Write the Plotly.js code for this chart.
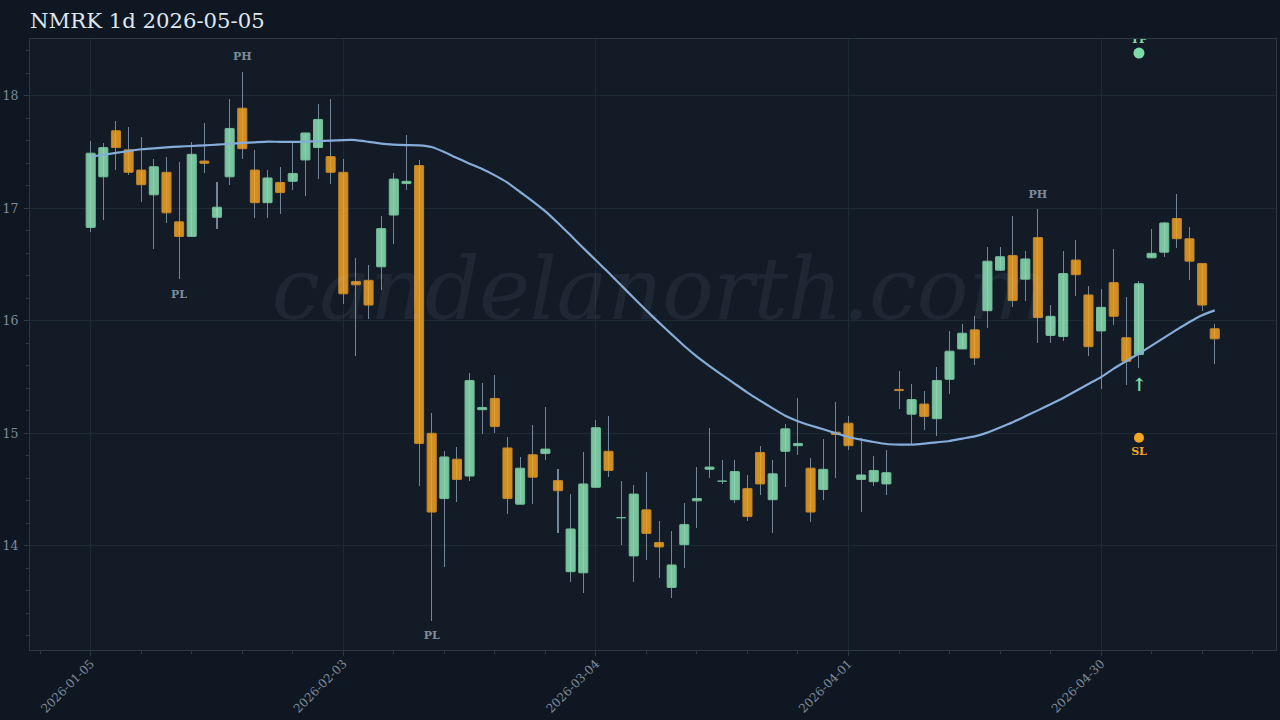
<!DOCTYPE html>
<html><head><meta charset="utf-8">
<script src="https://cdn.plot.ly/plotly-3.0.1.min.js"></script>
<style>html,body{margin:0;padding:0;background:#0f1722;}#c{width:1280px;height:720px;}.annotation text{letter-spacing:-0.6px;}</style>
</head><body><div id="c"></div>
<script>
const opens=[16.83,17.28,17.69,17.52,17.34,17.12,17.32,16.88,16.75,17.42,16.92,17.28,17.89,17.34,17.05,17.23,17.24,17.43,17.54,17.46,17.32,16.35,16.36,16.48,16.94,17.22,17.38,15.00,14.42,14.77,14.62,15.21,15.31,14.87,14.37,14.81,14.82,14.58,13.77,13.76,14.52,14.84,14.25,13.91,14.32,14.03,13.63,14.01,14.40,14.68,14.575,14.41,14.51,14.83,14.41,14.84,14.89,14.69,14.50,15.01,15.09,14.59,14.57,14.55,15.39,15.17,15.26,15.13,15.48,15.75,15.92,16.09,16.45,16.58,16.37,16.74,15.87,15.86,16.54,16.23,15.91,16.34,15.85,15.70,16.56,16.61,16.91,16.73,16.51,15.93];
const closes=[17.49,17.54,17.54,17.32,17.21,17.37,16.96,16.75,17.48,17.40,17.01,17.71,17.53,17.05,17.27,17.14,17.31,17.67,17.79,17.32,16.24,16.32,16.14,16.82,17.26,17.24,14.91,14.30,14.79,14.59,15.47,15.23,15.06,14.42,14.69,14.61,14.86,14.49,14.15,14.55,15.05,14.67,14.25,14.46,14.11,13.99,13.83,14.19,14.42,14.70,14.575,14.66,14.26,14.55,14.64,15.04,14.91,14.30,14.68,14.99,14.89,14.63,14.67,14.65,15.38,15.30,15.15,15.47,15.73,15.89,15.67,16.53,16.57,16.18,16.55,16.03,16.04,16.42,16.41,15.77,16.12,16.04,15.64,16.33,16.60,16.87,16.73,16.53,16.14,15.84];
const highs=[17.60,17.58,17.78,17.72,17.63,17.44,17.46,17.41,17.59,17.76,17.23,17.97,18.21,17.52,17.34,17.37,17.59,17.67,17.93,17.97,17.44,16.56,16.50,16.93,17.31,17.65,17.43,15.18,14.84,14.88,15.54,15.45,15.52,14.97,14.79,15.07,15.23,14.68,14.46,14.83,15.12,15.15,14.58,14.54,14.66,14.22,14.13,14.38,14.70,15.05,14.76,14.76,14.63,14.89,14.76,15.08,15.31,14.78,14.95,15.28,15.15,14.96,14.80,14.85,15.55,15.44,15.38,15.59,15.91,15.97,16.04,16.66,16.66,16.93,16.62,16.99,16.14,16.62,16.72,16.31,16.28,16.64,16.21,16.35,16.82,16.88,17.13,16.83,16.51,15.97];
const lows=[16.79,16.90,17.34,17.30,17.06,16.64,16.87,16.37,16.75,17.31,16.82,17.21,17.44,16.91,16.91,16.95,17.16,17.11,17.26,17.22,16.15,15.69,16.02,16.27,16.68,17.16,14.53,13.33,13.81,14.39,14.58,14.99,15.00,14.28,14.37,14.37,14.76,14.11,13.68,13.58,14.52,14.61,14.01,13.68,13.87,13.71,13.54,13.80,14.16,14.60,14.55,14.38,14.22,14.45,14.11,14.52,14.81,14.21,14.41,14.60,14.85,14.30,14.53,14.45,15.22,14.90,15.03,14.98,15.35,15.75,15.61,15.94,16.44,16.12,16.18,15.80,15.80,15.82,16.22,15.69,15.39,15.96,15.43,15.58,16.56,16.57,16.65,16.36,16.09,15.62];
const movingAvg=[17.46,17.476,17.492,17.509,17.525,17.533,17.542,17.549,17.554,17.56,17.566,17.573,17.581,17.587,17.593,17.591,17.59,17.593,17.596,17.602,17.607,17.607,17.591,17.575,17.566,17.562,17.56,17.545,17.50,17.447,17.397,17.349,17.293,17.229,17.145,17.062,16.973,16.869,16.76,16.647,16.538,16.429,16.316,16.203,16.091,15.984,15.88,15.776,15.682,15.598,15.518,15.44,15.362,15.291,15.222,15.157,15.108,15.07,15.036,15.00,14.967,14.944,14.923,14.905,14.90,14.90,14.909,14.92,14.932,14.953,14.973,15.006,15.051,15.098,15.151,15.204,15.258,15.314,15.376,15.438,15.50,15.575,15.643,15.709,15.78,15.851,15.922,15.99,16.05,16.093];
const dateTickPositions=[0,20,40,60,80];
const dateTickLabels=['2026-01-05','2026-02-03','2026-03-04','2026-04-01','2026-04-30'];
const minorTickPositions=[-4,4,8,12,16,24,28,32,36,44,48,52,56,64,68,72,76,84,88,92];
const pivotIndex=[12,7,27,75];
const pivotPrice=[18.34,16.23,13.20,17.12];
const pivotLabels=['PH','PL','PL','PH'];
const signalIndex=83;
const takeProfit=18.38, stopLoss=14.96, tpLabelPrice=18.495, slLabelPrice=14.83, arrowPrice=15.42;

const GREEN='rgba(140,225,180,0.85)', GREEN_LINE='#72bd98';
const ORANGE='rgba(245,166,35,0.84)', ORANGE_LINE='#c2862a';
const WICK='#768699';
const SER='"DejaVu Serif", serif';
const TICKTXT='#7d8b9b';
const idx=opens.map((_,i)=>i);
const up=idx.filter(i=>closes[i]>=opens[i]);
const dn=idx.filter(i=>closes[i]<opens[i]);
const bodyTrace=(ids,fill,line)=>({type:'bar',x:ids,base:ids.map(i=>Math.min(opens[i],closes[i])),
  y:ids.map(i=>Math.abs(closes[i]-opens[i])),width:0.72,
  marker:{color:fill,line:{color:line,width:1},cornerradius:1},hoverinfo:'skip',showlegend:false});
const traces=[
 {type:'bar',x:idx,base:lows,y:idx.map(i=>highs[i]-lows[i]),width:0.08,marker:{color:WICK,line:{width:0}},hoverinfo:'skip',showlegend:false},
 bodyTrace(up,GREEN,GREEN_LINE),
 bodyTrace(dn,ORANGE,ORANGE_LINE),
 {type:'scatter',mode:'lines',x:idx,y:movingAvg,line:{color:'#86acd9',width:2.2,shape:'spline',smoothing:0.4},hoverinfo:'skip',showlegend:false},
 {type:'scatter',mode:'text',x:pivotIndex,y:pivotPrice,text:pivotLabels,textposition:'middle center',
  textfont:{family:SER,size:11,color:TICKTXT,weight:700},hoverinfo:'skip',showlegend:false},
 {type:'scatter',mode:'markers',x:[signalIndex],y:[takeProfit],marker:{color:'#7fdcaa',size:11},hoverinfo:'skip',showlegend:false},
 {type:'scatter',mode:'markers',x:[signalIndex],y:[stopLoss],marker:{color:'#f5a623',size:10},hoverinfo:'skip',showlegend:false},
 {type:'scatter',mode:'text',x:[signalIndex],y:[tpLabelPrice],text:['TP'],textposition:'middle center',
  textfont:{family:SER,size:11,color:'#7fdcaa',weight:700},hoverinfo:'skip',showlegend:false},
 {type:'scatter',mode:'text',x:[signalIndex],y:[slLabelPrice],text:['SL'],textposition:'middle center',
  textfont:{family:SER,size:11,color:'#f5a623',weight:700},hoverinfo:'skip',showlegend:false},
 {type:'scatter',mode:'text',x:[signalIndex],y:[arrowPrice],text:['↑'],textposition:'middle center',
  textfont:{family:SER,size:18,color:'#7fdcaa',weight:700},hoverinfo:'skip',showlegend:false}
];
const layout={
 width:1280,height:720,paper_bgcolor:'#0f1722',plot_bgcolor:'#131b26',
 margin:{l:30,r:4,t:39,b:70},barmode:'overlay',bargap:0,showlegend:false,hovermode:false,
 font:{family:SER,color:TICKTXT},
 title:{text:'NMRK 1d 2026-05-05',x:30/1280,xref:'container',xanchor:'left',y:1-21/720,yref:'container',yanchor:'middle',automargin:false,
   font:{family:SER,size:21.2,color:'#dfe7ef'}},
 xaxis:{type:'linear',range:[-4.806,93.85],tickmode:'array',tickvals:dateTickPositions,ticktext:dateTickLabels,tickangle:-45,
   ticks:'outside',ticklen:5,tickwidth:1,tickcolor:'#2b3947',showline:true,mirror:true,linecolor:'#2b3947',linewidth:1,
   gridcolor:'#1c2a33',gridwidth:1,zeroline:false,automargin:false,tickfont:{family:SER,size:12,color:TICKTXT},ticklabelstandoff:-4,
   minor:{tickmode:'array',tickvals:minorTickPositions,ticks:'outside',ticklen:3,tickwidth:1,tickcolor:'#2b3947',showgrid:false}},
 yaxis:{type:'linear',range:[13.074,18.505],tickmode:'linear',tick0:14,dtick:1,
   ticks:'outside',ticklen:5,tickwidth:1,tickcolor:'#2b3947',showline:true,mirror:true,linecolor:'#2b3947',linewidth:1,
   gridcolor:'#1c2a33',gridwidth:1,zeroline:false,automargin:false,tickfont:{family:SER,size:12.5,color:TICKTXT},ticklabelstandoff:3,
   minor:{dtick:0.2,tick0:14,ticks:'outside',ticklen:3,tickwidth:1,tickcolor:'#2b3947',showgrid:false}},
 annotations:[{text:'candelanorth.com',xref:'paper',yref:'paper',x:(660-30)/1246,y:(650-289)/611,xanchor:'center',yanchor:'middle',
   showarrow:false,font:{family:SER,size:86,color:'rgba(170,200,210,0.075)',style:'italic'}}]
};
Plotly.newPlot('c',traces,layout,{displayModeBar:false,staticPlot:true});
</script></body></html>
